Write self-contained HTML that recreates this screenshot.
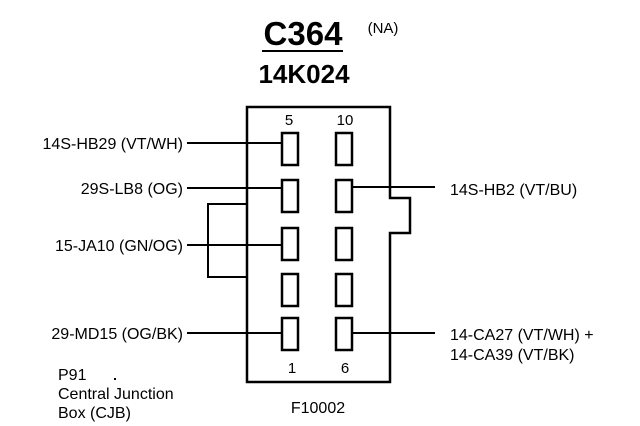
<!DOCTYPE html>
<html><head><style>
body{margin:0;background:#fff;}
svg{display:block;font-family:"Liberation Sans",Arial,sans-serif;}
</style></head><body>
<svg width="640" height="426" viewBox="0 0 640 426">
<text x="303" y="45" font-size="33" font-weight="bold" text-anchor="middle">C364</text>
<text x="383" y="33" font-size="15" text-anchor="middle">(NA)</text>
<line x1="262" y1="51" x2="343" y2="51" stroke="#000" stroke-width="2"/>
<text x="304" y="83" font-size="26" font-weight="bold" text-anchor="middle">14K024</text>
<g fill="none" stroke="#000" stroke-width="2.5">
<path d="M247,107 H390 V198 H410 V233 H390 V382 H247 Z"/>
<rect x="282" y="133" width="16" height="32"/>
<rect x="336" y="133" width="16" height="32"/>
<rect x="282" y="180" width="16" height="32"/>
<rect x="336" y="180" width="16" height="32"/>
<rect x="282" y="228" width="16" height="32"/>
<rect x="336" y="228" width="16" height="32"/>
<rect x="282" y="274" width="16" height="32"/>
<rect x="336" y="274" width="16" height="32"/>
<rect x="282" y="318" width="16" height="32"/>
<rect x="336" y="318" width="16" height="32"/>
</g>
<g stroke="#000" stroke-width="2" fill="none">
<line x1="187" y1="143" x2="282" y2="143"/>
<line x1="187" y1="188" x2="282" y2="188"/>
<line x1="187" y1="245" x2="282" y2="245"/>
<line x1="187" y1="333" x2="282" y2="333"/>
<path d="M247,204 H208 V277 H247"/>
<line x1="352" y1="187" x2="435" y2="187"/>
<line x1="352" y1="333" x2="435" y2="333"/>
</g>
<rect x="114" y="378" width="2" height="2" fill="#000"/>
<g font-size="15">
<text x="289" y="125" text-anchor="middle">5</text>
<text x="345" y="125" text-anchor="middle">10</text>
<text x="292" y="373" text-anchor="middle">1</text>
<text x="345" y="373" text-anchor="middle">6</text>
</g>
<g font-size="16">
<text x="183" y="149" text-anchor="end">14S-HB29 (VT/WH)</text>
<text x="183" y="194" text-anchor="end">29S-LB8 (OG)</text>
<text x="183" y="251" text-anchor="end">15-JA10 (GN/OG)</text>
<text x="183" y="339" text-anchor="end">29-MD15 (OG/BK)</text>
<text x="450" y="195">14S-HB2 (VT/BU)</text>
<text x="450" y="340">14-CA27 (VT/WH) +</text>
<text x="450" y="360">14-CA39 (VT/BK)</text>
<text x="58" y="380">P91</text>
<text x="58" y="399">Central Junction</text>
<text x="58" y="418">Box (CJB)</text>
<text x="318" y="413" text-anchor="middle">F10002</text>
</g>
</svg>
</body></html>
